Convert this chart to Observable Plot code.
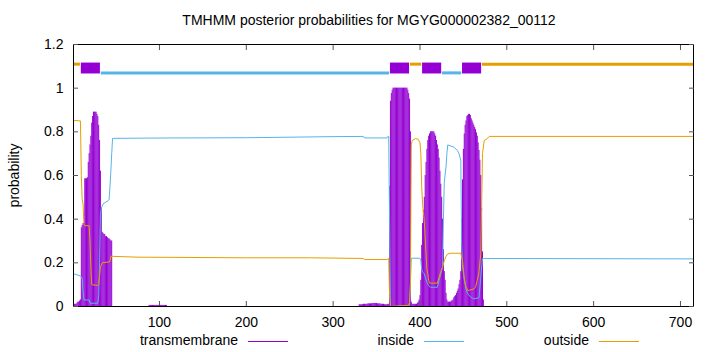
<!DOCTYPE html>
<html><head><meta charset="utf-8">
<script src="https://cdn.jsdelivr.net/npm/d3@7"></script>
<script src="https://cdn.jsdelivr.net/npm/@observablehq/plot@0.6"></script>
<style>
body{margin:0;background:#fff;font-family:"Liberation Sans",Arial,sans-serif;}
#wrap{position:relative;width:720px;height:352px;overflow:hidden;background:#fff;}
#title{position:absolute;top:12px;left:0;width:738px;text-align:center;font-size:14px;line-height:16px;color:#000;white-space:nowrap;}
#chart{position:absolute;top:34px;left:0;}
#legend{position:absolute;top:332px;left:0;width:720px;height:20px;}
</style>
</head><body>
<div id="wrap">
<div id="title"></div>
<div id="chart"></div>
<svg id="legend" width="720" height="20" xmlns="http://www.w3.org/2000/svg"></svg>
</div>
<script>
const titleText = "TMHMM posterior probabilities for MGYG000002382_00112";
const seqLength = 715;
const xTicks = [100, 200, 300, 400, 500, 600, 700];
const yTicks = [0, 0.2, 0.4, 0.6, 0.8, 1, 1.2];
const legendLabels = ["transmembrane", "inside", "outside"];
const colors = {tm: "#9400D3", inside: "#56B4E9", outside: "#E69F00"};

// Predicted topology (start, end, type)
const segStart = [1, 10, 33, 366, 389, 403, 426, 449, 472];
const segEnd   = [9, 32, 365, 388, 402, 425, 448, 471, 715];
const segType  = ["outside", "tm", "inside", "tm", "outside", "tm", "inside", "tm", "outside"];

// Transmembrane posterior probability (impulses), runs of consecutive residues
const tmPeak1Start = 1;
const tmPeak1 = [0.01,0.01,0.01,0.01,0.015,0.02,0.02,0.025,0.03,0.36,0.37,0.38,0.38,0.585,0.585,0.585,0.59,0.66,0.70,0.74,0.78,0.84,0.87,0.89,0.89,0.89,0.89,0.88,0.87,0.83,0.76,0.62,0.45,0.34,0.335,0.33,0.33,0.32,0.32,0.315,0.31,0.31,0.305,0.30,0.30,0.0];
const tmLow1Start = 88;
const tmLow1 = [0.005,0.005,0.005,0.005,0.005,0.005,0.005,0.005,0.005,0.005,0.005,0.005,0.005,0.005,0.005,0.005,0.005,0.005,0.005,0.005,0.005];
const tmLow2Start = 330;
const tmLow2 = [0.008,0.008,0.008,0.008,0.008,0.01,0.01,0.01,0.01,0.01,0.012,0.012,0.012,0.012,0.012,0.014,0.014,0.014,0.014,0.014,0.014,0.012,0.012,0.012,0.012,0.01,0.01,0.01,0.01,0.008,0.008,0.008,0.008,0.01];
const tmPeak2Start = 364;
const tmPeak2 = [0.01,0.55,0.94,0.975,0.99,1,1,1,1,1,1,1,1,1,1,1,1,1,1,1,1,1,0.99,0.975,0.95,0.80,0.02];
const tmLow3Start = 391;
const tmLow3 = [0.01,0.01,0.01,0.01,0.01,0.01,0.015];
const tmPeak3Start = 398;
const tmPeak3 = [0.02,0.03,0.05,0.12,0.28,0.38,0.44,0.50,0.60,0.66,0.72,0.76,0.78,0.79,0.80,0.80,0.80,0.80,0.80,0.79,0.78,0.76,0.74,0.72,0.68,0.62,0.56,0.50,0.40,0.26,0.16,0.12,0.06,0.03,0.02,0.02,0.02,0.02,0.025,0.025];
const tmPeak4Start = 438;
const tmPeak4 = [0.03,0.04,0.045,0.05,0.06,0.07,0.08,0.10,0.12,0.16,0.40,0.58,0.72,0.79,0.83,0.85,0.87,0.875,0.88,0.88,0.875,0.86,0.85,0.84,0.83,0.82,0.81,0.795,0.78,0.75,0.715,0.67,0.60,0.45,0.25,0.03];

// Inside posterior probability (residue, value) read points
const insideRes  = [1,9,10,11,12,13,19,20,29,30,31,32,33,35,41,42,43,44,45,46,75,120,200,300,335,336,362,363,364,365,366,388,389,390,400,401,402,403,405,406,408,410,412,420,422,424,426,427,428,430,431,432,439,443,445,447,448,449,451,453,455,458,462,468,470,472,715];
const insideProb = [0.15,0.14,0.135,0.13,0.07,0.03,0.03,0.015,0.015,0.05,0.2,0.42,0.45,0.47,0.485,0.49,0.55,0.62,0.70,0.77,0.771,0.772,0.773,0.778,0.779,0.772,0.772,0.779,0.779,0.40,0.0,0.005,0.10,0.221,0.221,0.21,0.17,0.157,0.15,0.135,0.11,0.096,0.088,0.088,0.12,0.15,0.18,0.40,0.57,0.64,0.70,0.74,0.73,0.715,0.70,0.67,0.30,0.18,0.12,0.08,0.058,0.045,0.035,0.04,0.134,0.22,0.218];

// Outside posterior probability (residue, value) read points
const outsideRes  = [1,9,10,11,12,13,14,19,20,21,22,29,30,31,32,34,43,44,75,200,274,335,336,362,364,365,366,387,388,389,390,391,395,398,400,401,402,403,405,407,408,409,410,411,420,422,424,426,428,430,432,436,447,449,451,453,455,462,464,466,468,470,471,472,474,477,480,715];
const outsideProb = [0.852,0.85,0.60,0.49,0.47,0.38,0.37,0.37,0.30,0.18,0.10,0.096,0.10,0.14,0.18,0.20,0.205,0.23,0.226,0.223,0.223,0.22,0.215,0.215,0.22,0.05,0.0,0.005,0.02,0.10,0.74,0.76,0.77,0.765,0.75,0.70,0.55,0.47,0.39,0.24,0.17,0.15,0.12,0.107,0.107,0.134,0.16,0.18,0.21,0.23,0.241,0.244,0.244,0.21,0.13,0.09,0.073,0.08,0.09,0.12,0.16,0.24,0.45,0.70,0.76,0.768,0.779,0.779];

// track levels for the predicted topology
const outsideLevel = 1.11, insideLevel = 1.07, tmBoxLow = 1.065, tmBoxHigh = 1.115;

const tmRuns = [[tmPeak1Start, tmPeak1],[tmLow1Start, tmLow1],[tmLow2Start, tmLow2],[tmPeak2Start, tmPeak2],[tmLow3Start, tmLow3],[tmPeak3Start, tmPeak3],[tmPeak4Start, tmPeak4]];
const tmData = tmRuns.flatMap(([s, vals]) => vals.map((p, i) => ({r: s + i, p})));
const insideData = insideRes.map((r, i) => ({r, p: insideProb[i]}));
const outsideData = outsideRes.map((r, i) => ({r, p: outsideProb[i]}));
const segs = segStart.map((s, i) => ({start: s, end: segEnd[i], type: segType[i]}));

document.getElementById("title").textContent = titleText;

const font = "Liberation Sans, Arial, sans-serif";
const chart = Plot.plot({
  width: 720, height: 298,
  marginTop: 10, marginBottom: 26, marginLeft: 73, marginRight: 27,
  style: {fontFamily: font, fontSize: "14px", background: "white", color: "black"},
  x: {domain: [1, seqLength]},
  y: {domain: [0, 1.2]},
  marks: [
    Plot.ruleX(tmData, {x: "r", y1: 0, y2: "p", stroke: colors.tm, strokeWidth: 1}),
    Plot.line(insideData, {x: "r", y: "p", stroke: colors.inside, strokeWidth: 1}),
    Plot.line(outsideData, {x: "r", y: "p", stroke: colors.outside, strokeWidth: 1}),
    Plot.ruleY(segs.filter(d => d.type === "outside"), {y: outsideLevel, x1: "start", x2: "end", stroke: colors.outside, strokeWidth: 3}),
    Plot.ruleY(segs.filter(d => d.type === "inside"), {y: insideLevel, x1: "start", x2: "end", stroke: colors.inside, strokeWidth: 3}),
    Plot.rect(segs.filter(d => d.type === "tm"), {x1: "start", x2: "end", y1: tmBoxLow, y2: tmBoxHigh, fill: colors.tm}),
    Plot.frame({stroke: "black"}),
    Plot.axisX({ticks: xTicks, tickSize: -5, tickPadding: 16, stroke: "#555", label: null, fontSize: 14}),
    Plot.axisX({anchor: "top", ticks: xTicks, tickSize: -5, stroke: "#555", tickFormat: () => "", label: null}),
    Plot.axisY({ticks: yTicks, tickSize: -5, tickPadding: 15, stroke: "#555", tickFormat: d => String(d), label: "probability", labelAnchor: "center", labelArrow: "none", labelOffset: 64, fontSize: 14}),
    Plot.axisY({anchor: "right", ticks: yTicks, tickSize: -5, stroke: "#555", tickFormat: () => "", label: null})
  ]
});
document.getElementById("chart").appendChild(chart);

// legend below the plot
const legendTextRight = [238, 414, 589];
const legendColors = [colors.tm, colors.inside, colors.outside];
const lg = d3.select("#legend");
legendLabels.forEach((t, i) => {
  lg.append("text")
    .attr("x", legendTextRight[i]).attr("y", 13)
    .attr("text-anchor", "end")
    .attr("font-family", font).attr("font-size", 14).attr("fill", "black")
    .text(t);
  lg.append("line")
    .attr("x1", legendTextRight[i] + 10).attr("x2", legendTextRight[i] + 50)
    .attr("y1", 9.5).attr("y2", 9.5)
    .attr("stroke", legendColors[i]).attr("stroke-width", 1);
});
</script>
</body></html>
